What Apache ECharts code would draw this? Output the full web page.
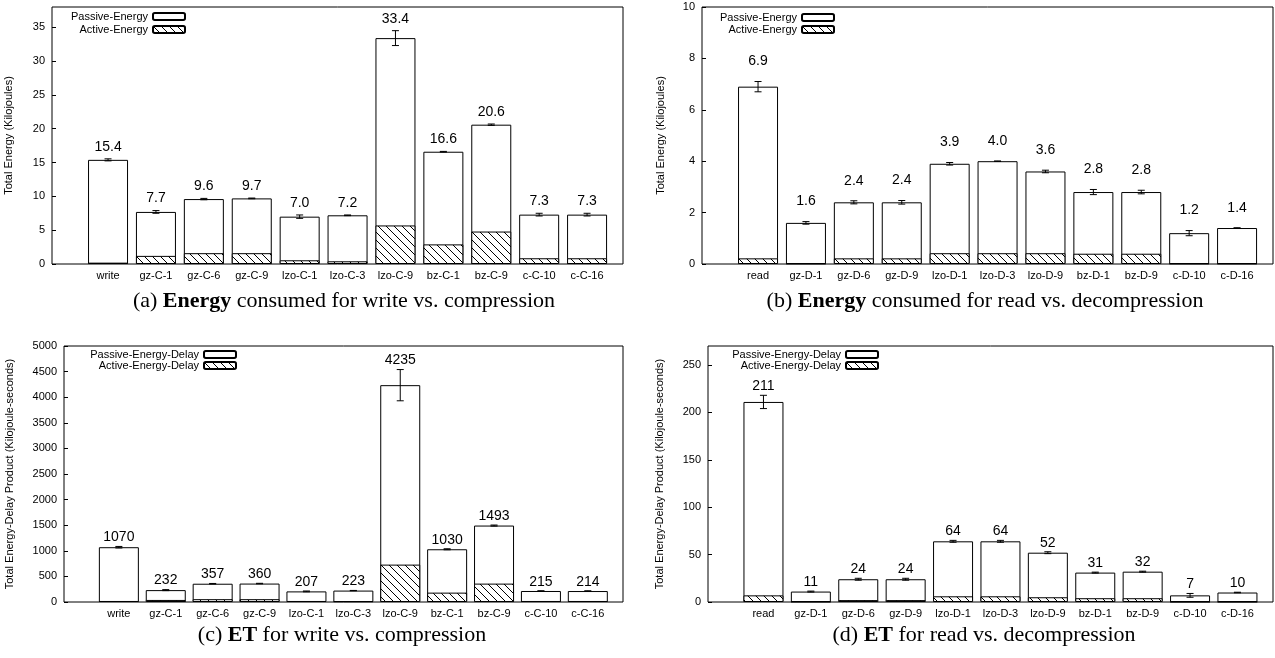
<!DOCTYPE html>
<html>
<head>
<meta charset="utf-8">
<script src="https://cdn.jsdelivr.net/npm/echarts@6/dist/echarts.min.js"></script>
<style>
  html, body { margin: 0; padding: 0; background: #fff; }
  #chart { width: 1275px; height: 658px; }
</style>
</head>
<body>
<div id="chart"></div>
<script>
// categories
const catsWrite = ['write', 'gz-C-1', 'gz-C-6', 'gz-C-9', 'lzo-C-1', 'lzo-C-3', 'lzo-C-9', 'bz-C-1', 'bz-C-9', 'c-C-10', 'c-C-16']
const catsRead = ['read', 'gz-D-1', 'gz-D-6', 'gz-D-9', 'lzo-D-1', 'lzo-D-3', 'lzo-D-9', 'bz-D-1', 'bz-D-9', 'c-D-10', 'c-D-16']

// (a) energy, write vs compression (kJ)
const totalA = [15.4, 7.7, 9.6, 9.7, 7.0, 7.2, 33.4, 16.6, 20.6, 7.3, 7.3]
const activeA = [0.2, 1.2, 1.6, 1.6, 0.55, 0.4, 5.7, 2.9, 4.8, 0.85, 0.85]
const errA = [0.15, 0.2, 0.1, 0.05, 0.25, 0.05, 1.1, 0.05, 0.1, 0.2, 0.2]

// (b) energy, read vs decompression (kJ)
const totalB = [6.9, 1.6, 2.4, 2.4, 3.9, 4.0, 3.6, 2.8, 2.8, 1.2, 1.4]
const activeB = [0.22, 0.02, 0.22, 0.22, 0.42, 0.42, 0.42, 0.4, 0.4, 0.02, 0.02]
const errB = [0.2, 0.05, 0.06, 0.07, 0.05, 0.01, 0.05, 0.1, 0.07, 0.1, 0.01]

// (c) energy-delay, write vs compression (kJ*s)
const totalC = [1070, 232, 357, 360, 207, 223, 4235, 1030, 1493, 215, 214]
const activeC = [20, 40, 55, 55, 20, 15, 730, 183, 359, 20, 20]
const errC = [15, 10, 5, 5, 8, 3, 305, 10, 10, 5, 5]

// (d) energy-delay, read vs decompression (kJ*s)
const totalD = [211, 11, 24, 24, 64, 64, 52, 31, 32, 7, 10]
const activeD = [7, 0.4, 2, 2, 6, 6, 5, 4, 4, 0.3, 0.3]
const errD = [7, 0.5, 1, 1, 1, 1, 1, 0.5, 0.5, 2, 0.3]

// y tick labels
const ticksA = [0, 5, 10, 15, 20, 25, 30, 35]
const ticksB = [0, 2, 4, 6, 8, 10]
const ticksC = [0, 500, 1000, 1500, 2000, 2500, 3000, 3500, 4000, 4500, 5000]
const ticksD = [0, 50, 100, 150, 200, 250]

const captions = [
  ['(a) ', 'Energy', ' consumed for write vs. compression'],
  ['(b) ', 'Energy', ' consumed for read vs. decompression'],
  ['(c) ', 'ET', ' for write vs. compression'],
  ['(d) ', 'ET', ' for read vs. decompression']
]

const FONT = '"Liberation Sans", Arial, Helvetica, sans-serif'
const SERIF = '"Liberation Serif", "Times New Roman", serif'

// hatch pattern "\\\\" for the active part
const hatch = document.createElement('canvas')
hatch.width = 8
hatch.height = 8
const hc = hatch.getContext('2d')
hc.fillStyle = '#fff'
hc.fillRect(0, 0, 8, 8)
hc.strokeStyle = '#000'
hc.lineWidth = 1
for (const k of [-8, 0, 8]) {
  hc.beginPath()
  hc.moveTo(k, 0)
  hc.lineTo(k + 8, 8)
  hc.stroke()
}

const panels = [
  { cats: catsWrite, total: totalA, active: activeA, err: errA, ticks: ticksA, max: 38, digits: 1, labelGap: 12,
    names: ['Passive-Energy', 'Active-Energy'], yName: 'Total Energy (Kilojoules)', nameGap: 38,
    grid: { left: 52, top: 7, width: 571, height: 257 }, legendRight: 1089, legendTop: 11, legendStep: 13 },
  { cats: catsRead, total: totalB, active: activeB, err: errB, ticks: ticksB, max: 10, digits: 1, labelGap: 20,
    names: ['Passive-Energy', 'Active-Energy'], yName: 'Total Energy (Kilojoules)', nameGap: 36,
    grid: { left: 702, top: 7, width: 571, height: 257 }, legendRight: 440, legendTop: 12, legendStep: 12 },
  { cats: catsWrite, total: totalC, active: activeC, err: errC, ticks: ticksC, max: 5000, digits: 0, labelGap: 9,
    names: ['Passive-Energy-Delay', 'Active-Energy-Delay'], yName: 'Total Energy-Delay Product (Kilojoule-seconds)', nameGap: 49,
    grid: { left: 64, top: 346, width: 559, height: 256 }, legendRight: 1038, legendTop: 349, legendStep: 11 },
  { cats: catsRead, total: totalD, active: activeD, err: errD, ticks: ticksD, max: 270, digits: 0, labelGap: 9,
    names: ['Passive-Energy-Delay', 'Active-Energy-Delay'], yName: 'Total Energy-Delay Product (Kilojoule-seconds)', nameGap: 43,
    grid: { left: 708, top: 346, width: 565, height: 256 }, legendRight: 396, legendTop: 349, legendStep: 11 }
]
const captionPos = [[344, 301], [985, 301], [342, 635], [984, 635]]

const idx = catsWrite.map((c, i) => i)

// error bar + value label on top
const errorRender = (p) => (params, api) => {
  const x = api.value(0)
  const lo = api.coord([x, api.value(1)])
  const hi = api.coord([x, api.value(2)])
  const top = api.coord([x, api.value(3)])
  const cap = 3.5
  const yTop = Math.min(hi[1], top[1])
  const line = (x1, y1, x2, y2) => ({ type: 'line', shape: { x1, y1, x2, y2 }, style: { stroke: '#000', lineWidth: 1 } })
  return {
    type: 'group',
    children: [
      line(lo[0], lo[1], hi[0], hi[1]),
      line(lo[0] - cap, lo[1], lo[0] + cap, lo[1]),
      line(hi[0] - cap, hi[1], hi[0] + cap, hi[1]),
      {
        type: 'text',
        style: {
          text: api.value(3).toFixed(p.digits),
          x: top[0], y: yTop - p.labelGap,
          align: 'center', verticalAlign: 'middle',
          font: '14px ' + FONT, fill: '#000'
        }
      }
    ]
  }
}

const grid = [], xAxis = [], yAxis = [], series = [], legend = [], graphic = []

panels.forEach((p, g) => {
  grid.push({ ...p.grid, show: true, borderColor: '#000', borderWidth: 1, backgroundColor: 'transparent' })
  xAxis.push({
    gridIndex: g, type: 'value', min: -1.17, max: 10.75,
    axisLine: { show: false, onZero: false }, splitLine: { show: false },
    axisTick: { show: true, inside: true, length: 4, customValues: idx, lineStyle: { color: '#000' } },
    axisLabel: { customValues: idx, formatter: v => p.cats[Math.round(v)], fontFamily: FONT, fontSize: 11, color: '#000', margin: 6 }
  })
  yAxis.push({
    gridIndex: g, type: 'value', min: 0, max: p.max,
    name: p.yName, nameLocation: 'middle', nameRotate: 90, nameGap: p.nameGap,
    nameTextStyle: { fontFamily: FONT, fontSize: 11, color: '#000' },
    axisLine: { show: false, onZero: false }, splitLine: { show: false },
    axisTick: { show: true, inside: true, length: 4, customValues: p.ticks, lineStyle: { color: '#000' } },
    axisLabel: { customValues: p.ticks, formatter: v => String(v), fontFamily: FONT, fontSize: 11, color: '#000', margin: 7 }
  })
  // total bar (passive on top of active) drawn full height, active bar overlaid
  series.push({
    name: p.names[0], type: 'bar', xAxisIndex: g, yAxisIndex: g,
    barWidth: 40, barGap: '-100%',
    itemStyle: { color: '#fff', borderColor: '#000', borderWidth: 1 },
    data: p.total.map((v, i) => [i, v]), z: 2
  })
  series.push({
    name: p.names[1], type: 'bar', xAxisIndex: g, yAxisIndex: g,
    barWidth: 40, barGap: '-100%',
    itemStyle: { color: { image: hatch, repeat: 'repeat' }, borderColor: '#000', borderWidth: 1 },
    data: p.active.map((v, i) => [i, v]), z: 3
  })
  series.push({
    type: 'custom', xAxisIndex: g, yAxisIndex: g, z: 4,
    renderItem: errorRender(p),
    encode: { x: 0, y: [1, 2] },
    data: p.total.map((v, i) => [i, v - p.err[i], v + p.err[i], v])
  })
  p.names.forEach((n, k) => {
    legend.push({
      data: [n], right: p.legendRight, top: p.legendTop + k * p.legendStep,
      orient: 'vertical', align: 'right', padding: 0,
      itemWidth: 32, itemHeight: 7, selectedMode: false,
      textStyle: { fontFamily: FONT, fontSize: 11, color: '#000' }
    })
  })
  const c = captions[g]
  graphic.push({
    type: 'text', x: captionPos[g][0], y: captionPos[g][1],
    style: {
      text: `{n|${c[0]}}{b|${c[1]}}{n|${c[2]}}`,
      align: 'center', verticalAlign: 'middle',
      rich: {
        n: { fontFamily: SERIF, fontSize: 22, fill: '#000' },
        b: { fontFamily: SERIF, fontSize: 22, fontWeight: 'bold', fill: '#000' }
      }
    }
  })
})

const mChart = echarts.init(document.getElementById('chart'))
mChart.setOption({
  animation: false,
  backgroundColor: '#fff',
  grid, xAxis, yAxis, series, legend, graphic
})
</script>
</body>
</html>
